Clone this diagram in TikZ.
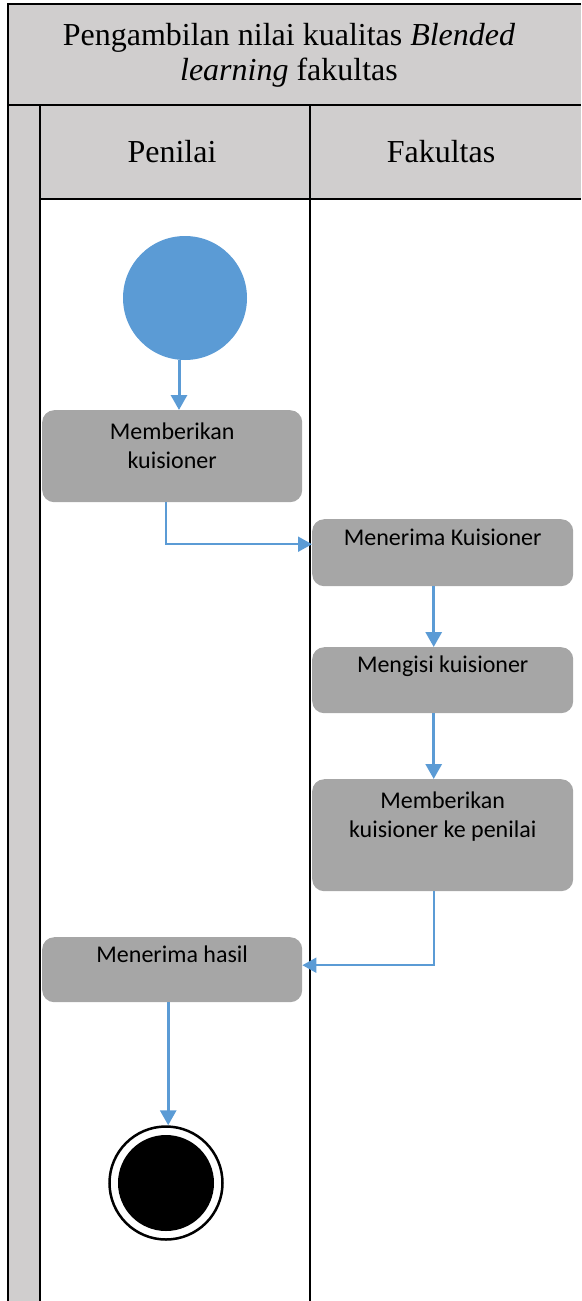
\documentclass[tikz,border=0pt]{standalone}
\usepackage{fontspec}
\setmainfont{Liberation Serif}
\newfontfamily\boxfont{Carlito}
\usetikzlibrary{arrows.meta}
\definecolor{hdrgray}{HTML}{D0CECE}
\definecolor{actgray}{HTML}{A6A6A6}
\definecolor{flowblue}{HTML}{5B9BD5}
\tikzset{
  frame/.style={line width=2pt, black},
  actbox/.style={rectangle, rounded corners=12pt, fill=actgray, draw=none, anchor=north west, inner sep=0pt},
  acttext/.style={anchor=base, align=center, inner sep=0pt, font=\boxfont\fontsize{24}{29}\selectfont},
  hdrtext/.style={align=center, inner sep=0pt, font=\fontsize{32}{35}\selectfont},
  flow/.style={draw=flowblue, line width=3pt, -{Triangle[width=16pt,length=15pt]}},
  flowthin/.style={draw=flowblue, line width=2pt, -{Triangle[width=15pt,length=14pt]}},
}
\begin{document}
\begin{tikzpicture}[x=1pt,y=-1pt]
\useasboundingbox (0,0) rectangle (581,1301);
% swimlane frame
\fill[hdrgray] (8,4) rectangle (581,105);
\fill[hdrgray] (8,105) rectangle (40,1301);
\fill[hdrgray] (40,105) rectangle (581,199);
\draw[frame] (581,4) -- (8,4) -- (8,1301);
\draw[frame] (8,105) -- (581,105);
\draw[frame] (40,105) -- (40,1301);
\draw[frame] (310,105) -- (310,1301);
\draw[frame] (40,199) -- (581,199);
\node[hdrtext] (title) at (289,55) {Pengambilan nilai kualitas \textit{Blended}\\\textit{learning} fakultas};
\node[hdrtext] (lanea) at (172,152) {Penilai};
\node[hdrtext] (laneb) at (441,152) {Fakultas};
% start
\node[circle, fill=flowblue, draw=none, minimum width=124pt, inner sep=0pt] (start) at (185,298) {};
% activities
\node[actbox, minimum width=260pt, minimum height=92pt] (b1) at (42,410) {};
\node[acttext] (t1) at ([yshift=-58pt]b1.north) {Memberikan\\kuisioner};
\node[actbox, minimum width=261pt, minimum height=67pt] (b2) at (312,519) {};
\node[acttext] (t2) at ([yshift=-26pt]b2.north) {Menerima Kuisioner};
\node[actbox, minimum width=261pt, minimum height=66pt] (b3) at (312,647) {};
\node[acttext] (t3) at ([yshift=-25pt]b3.north) {Mengisi kuisioner};
\node[actbox, minimum width=261pt, minimum height=112pt] (b4) at (312,779) {};
\node[acttext] (t4) at ([yshift=-58pt]b4.north) {Memberikan\\kuisioner ke penilai};
\node[actbox, minimum width=260pt, minimum height=65pt] (b5) at (42,937) {};
\node[acttext] (t5) at ([yshift=-25pt]b5.north) {Menerima hasil};
% end
\node[circle, draw=black, line width=2.5pt, minimum size=113pt, inner sep=0pt] (end) at (166,1183) {};
\fill[black] (end.center) circle (48pt);
% connectors
\draw[flow] ([xshift=-6pt]start.south) -- ([xshift=-6pt]start.south |- b1.north);
\draw[flowthin] ([xshift=-6pt]b1.south) |- ([yshift=8.5pt]b2.west);
\draw[flow] ([xshift=-9pt]b2.south) -- ([xshift=-9pt]b2.south |- b3.north);
\draw[flow] ([xshift=-9pt]b3.south) -- ([xshift=-9pt]b3.south |- b4.north);
\draw[flowthin] ([xshift=-9pt]b4.south) |- ([yshift=4.5pt]b5.east);
\draw[flow] ([xshift=-4pt]b5.south) -- ([xshift=-4pt]b5.south |- end.north);
\end{tikzpicture}
\end{document}
